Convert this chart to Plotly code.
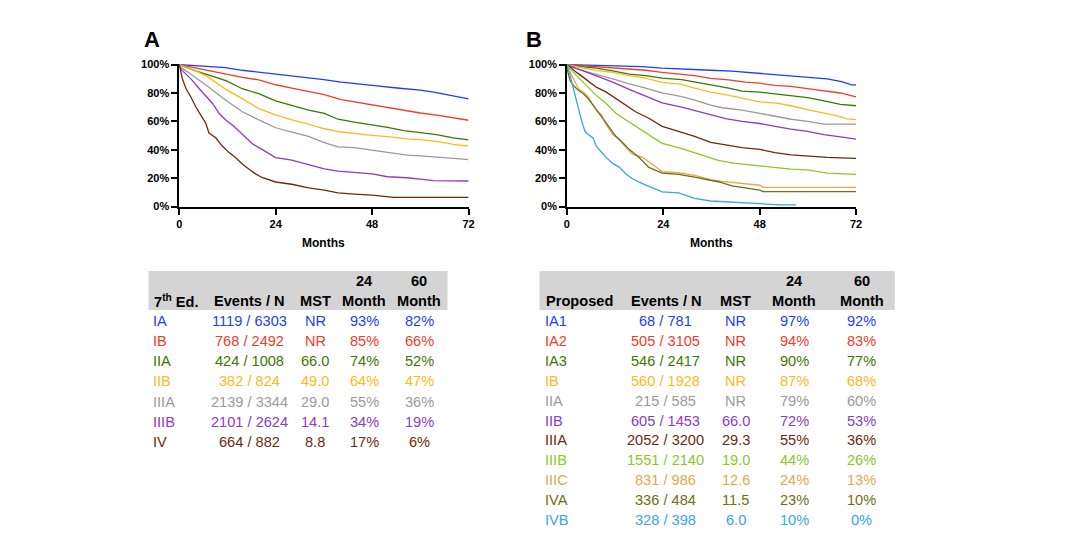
import plotly.graph_objects as go

# ---------------- DATA ----------------
# Panel A (7th edition) Kaplan-Meier curves: months and survival (%)
A_IA_t = [0, 3, 6.6, 11.5, 15.7, 20.6, 24, 28, 32, 36, 40.3, 43.6, 48, 54.2, 60, 63.3, 66.5, 69.7, 72]
A_IA_s = [100, 99.5, 99, 97.8, 96, 94.5, 93, 92, 91, 89.4, 87.6, 86.4, 85.3, 83.5, 82, 80.6, 78.8, 77.2, 75.8]
A_IB_t = [0, 1.7, 4.1, 7.4, 11.6, 15.7, 19.8, 24, 28, 32.2, 36.1, 40.3, 43.6, 48, 51.8, 56.7, 60, 64.9, 68.2, 72]
A_IB_s = [100, 99, 98, 95.6, 93.3, 91, 89.2, 85.8, 83.4, 81.3, 78.8, 75.3, 73.7, 71.4, 69.6, 67.3, 65.9, 64, 62.7, 60.8]
A_IIA_t = [0, 1.7, 4.1, 7.4, 11.6, 15.7, 19.8, 24, 28, 32.2, 36.1, 39.5, 43.6, 48, 51.8, 55.9, 60, 64, 68.2, 72]
A_IIA_s = [100, 98, 95.6, 92.6, 88.7, 83, 79.5, 74.5, 71.4, 68, 65.7, 61.5, 59.4, 57.6, 55.8, 53.5, 52, 50.7, 48.4, 47]
A_IIB_t = [0, 1.7, 4.1, 7.4, 11.6, 15.7, 19.8, 24, 28, 32.2, 36.1, 40.3, 43.6, 48, 51.8, 56.7, 60, 64.9, 68.2, 72]
A_IIB_s = [100, 98, 95.6, 91, 82.5, 76, 69, 64.5, 61, 58, 54.8, 52.5, 51.4, 50.2, 49.3, 47.7, 47.2, 45.6, 43.8, 42.6]
A_IIIA_t = [0, 0.4, 1.7, 4.1, 7.4, 11.6, 15.7, 19.8, 24, 28, 32.2, 36.1, 39.5, 43.6, 48, 51.8, 56.7, 60, 64, 68.2, 72]
A_IIIA_s = [100, 98, 95.6, 91, 84.1, 74.9, 66.8, 61, 55.5, 52.5, 49.5, 45, 42, 41.5, 39.6, 38, 36.2, 35.7, 34.6, 33.9, 33]
A_IIIB_t = [0, 0.4, 1.7, 3.3, 5, 6.6, 8.3, 9.9, 11.6, 13.6, 15.7, 18.2, 20.6, 24, 28, 32.2, 36.1, 39.5, 43.6, 48, 51.8, 56.7, 60, 63.2, 72]
A_IIIB_s = [100, 96.8, 93.3, 88.7, 83, 78.3, 72.6, 65.7, 61, 56.5, 50.7, 44.2, 40.3, 34.5, 32.7, 29.5, 26.5, 25, 23.8, 23, 21, 20.3, 19.3, 18.2, 18]
A_IV_t = [0, 0.4, 0.8, 1.7, 2.9, 4.1, 5.4, 6.6, 7.4, 9.1, 10.7, 12.4, 14, 15.7, 17.3, 19, 20.6, 24, 28, 32.2, 36.1, 39.5, 43.6, 48, 53.4, 72]
A_IV_s = [100, 94.5, 89.9, 83, 77.2, 70.3, 64.5, 58.8, 51.8, 48.4, 42.6, 38, 34.6, 30, 26.5, 23, 20.5, 17.3, 15.7, 13.1, 11.5, 9.7, 8.8, 8.1, 6.5, 6.5]

# Panel B (proposed) Kaplan-Meier curves
B_IA1_t = [0, 6.5, 11.4, 18.8, 23.7, 31.8, 35.8, 41.1, 45.2, 48.9, 50.9, 55, 59.1, 64.8, 68.1, 70.9, 72]
B_IA1_s = [100, 99.7, 99.3, 98.6, 97.5, 96.8, 96, 95.4, 94.5, 93.8, 93.1, 92.2, 91.5, 89.9, 88.2, 85.7, 85.7]
B_IA2_t = [0, 1.6, 4.1, 11.4, 15.5, 19.6, 23.7, 28.6, 31.8, 35.8, 40.3, 44.4, 48, 51.8, 55.8, 59.9, 64, 68.1, 70.5, 72]
B_IA2_s = [100, 99.7, 99.3, 97.9, 96.8, 96, 94.5, 93.3, 92.2, 90.3, 89.2, 87.6, 86.9, 85.3, 84.6, 83, 81.3, 80, 78.3, 77.2]
B_IA3_t = [0, 1.6, 4.1, 7.3, 11.4, 15.5, 19.6, 23.7, 28.6, 31.8, 35.8, 40.3, 43.6, 48, 51.8, 56.7, 59.9, 64, 68.1, 72]
B_IA3_s = [100, 99, 98.4, 97.5, 95.6, 93.3, 92.2, 90.5, 89.4, 87.6, 85.7, 83.4, 81.3, 80.6, 79.3, 77.9, 76.8, 74.4, 71.9, 71]
B_IB_t = [0, 1.6, 4.1, 7.3, 11.4, 15.5, 19.6, 23.7, 28.6, 31.8, 35.8, 39.5, 43.6, 48, 51.8, 55.8, 59.9, 64, 68.1, 69.7, 72]
B_IB_s = [100, 99, 97.5, 96, 94.5, 92.2, 90.5, 87.5, 86, 83.5, 80.6, 78.8, 76.5, 73.7, 73, 71, 68.3, 65.7, 63.4, 61.8, 61.3]
B_IIA_t = [0, 1.6, 4.1, 7.3, 11.4, 15.5, 19.6, 23.7, 28.6, 31.8, 35.8, 38.7, 43.6, 48, 51.8, 55.8, 59.9, 64, 72]
B_IIA_s = [100, 98, 95.6, 93.3, 89.9, 86.4, 83.5, 80, 77.5, 74.9, 71.4, 69.6, 68, 65.7, 63.4, 61.5, 60, 58.1, 58.1]
B_IIB_t = [0, 0.8, 2.4, 4.1, 7.3, 11.4, 15.5, 19.6, 23.7, 28.6, 31.8, 35.8, 39.5, 43.6, 48, 51.8, 55.8, 59.9, 64, 68.1, 72]
B_IIB_s = [100, 99, 97.2, 95.6, 92.2, 87.6, 82.5, 78, 73, 70, 67.5, 64.5, 62, 60, 58.5, 56.5, 54.5, 53, 50.7, 49.1, 47.5]
B_IIIA_t = [0, 0.8, 2.4, 4.1, 5.7, 7.3, 9.8, 12.2, 14.7, 17.1, 20.4, 23.7, 27.8, 31.8, 35.8, 39.5, 43.6, 48, 51.8, 55.8, 59.9, 64.8, 72]
B_IIIA_s = [100, 98, 94.5, 91, 87.6, 84.1, 80.6, 76, 71.4, 66.8, 62.2, 56.5, 53, 49.5, 45.2, 43.3, 41.5, 40.3, 38, 36.4, 35.7, 34.6, 33.9]
B_IIIB_t = [0, 0.8, 2.4, 4.1, 5.7, 7.3, 9.8, 12.2, 14.7, 17.1, 20.4, 23.7, 27.8, 31.8, 35.8, 37.9, 42, 48, 51.8, 55.8, 59.9, 64.8, 72]
B_IIIB_s = [100, 97, 92.2, 87.6, 83, 78.3, 72.6, 65.7, 61, 56.5, 50.7, 44.5, 41.5, 38, 34.1, 32.3, 30.4, 28.8, 27.6, 26.3, 25.8, 23.5, 22.6]
B_IIIC_t = [0, 0.4, 1.2, 2, 2.9, 4.1, 5.3, 6.5, 7.3, 8.6, 9.8, 11.4, 13.1, 14.7, 16.3, 18.8, 21.2, 23.7, 27.8, 31.8, 35.8, 38.7, 42, 48, 48.9, 72]
B_IIIC_s = [100, 96.8, 92.2, 87.6, 83, 80.6, 77.2, 71.4, 68, 64.5, 57.6, 50.7, 47.2, 41.5, 36.9, 34.6, 30, 24.5, 23.8, 21.9, 18.9, 17.7, 16.6, 15, 13.5, 13.5]
B_IVA_t = [0, 0.2, 0.8, 1.6, 2.9, 4.1, 5.3, 6.5, 7.8, 9, 10.6, 12.2, 13.9, 15.5, 18, 20.4, 23.7, 27.8, 31.8, 35.8, 37.9, 41.1, 44.4, 48, 48.9, 72]
B_IVA_s = [100, 95, 88.7, 85.3, 81.8, 79.5, 76, 71.4, 66.8, 62.2, 56.5, 49.5, 44.9, 40.3, 34.6, 27.6, 23.5, 22.6, 20.7, 18.4, 17.3, 14.5, 13.1, 11.5, 10.5, 10.5]
B_IVB_t = [0, 0.4, 0.8, 1.2, 1.6, 2, 2.4, 2.9, 3.3, 3.7, 4.1, 4.5, 5.3, 6.5, 7.3, 8.6, 9.8, 11.4, 13.1, 14.7, 16.3, 18.8, 21.2, 23.7, 27.8, 31.8, 35.8, 38.7, 44.4, 53.4, 57.1]
B_IVB_s = [100, 96.8, 92.2, 87.6, 83, 78.3, 73.7, 69.1, 64.5, 59.9, 56.5, 53, 50.7, 48.4, 42.6, 38, 34.6, 30.4, 27.6, 23, 19.6, 16.1, 13.4, 10.4, 9.7, 5.8, 3.9, 3.5, 2.3, 1.2, 1.2]

# Axis ticks
x_ticks = [0, 24, 48, 72]
y_ticks = [0, 20, 40, 60, 80, 100]
y_tick_labels = ["0%", "20%", "40%", "60%", "80%", "100%"]

# Table A
A_stages = ["IA", "IB", "IIA", "IIB", "IIIA", "IIIB", "IV"]
A_events = ["1119 / 6303", "768 / 2492", "424 / 1008", "382 / 824", "2139 / 3344", "2101 / 2624", "664 / 882"]
A_mst = ["NR", "NR", "66.0", "49.0", "29.0", "14.1", "8.8"]
A_m24 = ["93%", "85%", "74%", "64%", "55%", "34%", "17%"]
A_m60 = ["82%", "66%", "52%", "47%", "36%", "19%", "6%"]

# Table B
B_stages = ["IA1", "IA2", "IA3", "IB", "IIA", "IIB", "IIIA", "IIIB", "IIIC", "IVA", "IVB"]
B_events = ["68 / 781", "505 / 3105", "546 / 2417", "560 / 1928", "215 / 585", "605 / 1453",
            "2052 / 3200", "1551 / 2140", "831 / 986", "336 / 484", "328 / 398"]
B_mst = ["NR", "NR", "NR", "NR", "NR", "66.0", "29.3", "19.0", "12.6", "11.5", "6.0"]
B_m24 = ["97%", "94%", "90%", "87%", "79%", "72%", "55%", "44%", "24%", "23%", "10%"]
B_m60 = ["92%", "83%", "77%", "68%", "60%", "53%", "36%", "26%", "13%", "10%", "0%"]

# ---------------- STYLE ----------------
BLUE = "#1E3CFF"
RED = "#F03C2A"
GREEN = "#3A7800"
YELLOW = "#FFB81C"
GRAY = "#9A9A9A"
PURPLE = "#8A3CC2"
BROWN = "#6B2A0C"
LIME = "#8CC81E"
TAN = "#E0A850"
OLIVE = "#6E6E14"
CYAN = "#35A8E0"

A_colors = [BLUE, RED, GREEN, YELLOW, GRAY, PURPLE, BROWN]
B_colors = [BLUE, RED, GREEN, YELLOW, GRAY, PURPLE, BROWN, LIME, TAN, OLIVE, CYAN]

FONT = "Liberation Sans, Arial, Helvetica, sans-serif"
W, H = 1072, 547
TS = 14.6  # table font size


def px(x):
    return x / W


def py(y):
    return 1 - y / H


A_curves = [(A_IA_t, A_IA_s), (A_IB_t, A_IB_s), (A_IIA_t, A_IIA_s), (A_IIB_t, A_IIB_s),
            (A_IIIA_t, A_IIIA_s), (A_IIIB_t, A_IIIB_s), (A_IV_t, A_IV_s)]
B_curves = [(B_IA1_t, B_IA1_s), (B_IA2_t, B_IA2_s), (B_IA3_t, B_IA3_s), (B_IB_t, B_IB_s),
            (B_IIA_t, B_IIA_s), (B_IIB_t, B_IIB_s), (B_IIIA_t, B_IIIA_s), (B_IIIB_t, B_IIIB_s),
            (B_IIIC_t, B_IIIC_s), (B_IVA_t, B_IVA_s), (B_IVB_t, B_IVB_s)]

fig = go.Figure()

for (t, s), c, name in zip(A_curves, A_colors, A_stages):
    fig.add_trace(go.Scatter(x=t, y=s, mode="lines", line=dict(color=c, width=1.3, shape="linear"),
                             name=name, xaxis="x", yaxis="y", showlegend=False))
for (t, s), c, name in zip(B_curves, B_colors, B_stages):
    fig.add_trace(go.Scatter(x=t, y=s, mode="lines", line=dict(color=c, width=1.3, shape="linear"),
                             name=name, xaxis="x2", yaxis="y2", showlegend=False))

# axes geometry (pixels)
ext = 0.5  # % padding so lines at 100% are not clipped
y_top_px, y_bot_px = 60.7, 205.3
pp = (y_bot_px - y_top_px) / 100.0
ydom = [py(y_bot_px + ext * pp), py(y_top_px - ext * pp)]

axis_common = dict(showline=True, linecolor="black", linewidth=1.5, ticks="outside",
                   ticklen=6, tickwidth=1.5, tickcolor="black", showgrid=False, zeroline=False,
                   tickfont=dict(family=FONT, size=11, color="black", weight="bold"))

xcommon = dict(axis_common, range=[0, 72], tickmode="array", tickvals=x_ticks,
               ticktext=[str(v) for v in x_ticks])
ycommon = dict(axis_common, range=[-ext, 100 + ext], tickmode="array", tickvals=y_ticks,
               ticktext=y_tick_labels)

fig.update_layout(
    width=W, height=H, autosize=False,
    margin=dict(l=0, r=0, t=0, b=0),
    paper_bgcolor="white", plot_bgcolor="white",
    font=dict(family=FONT, color="black"),
    xaxis=dict(xcommon, domain=[px(177.7), px(469.5)], anchor="y"),
    yaxis=dict(ycommon, domain=ydom, anchor="x"),
    xaxis2=dict(xcommon, domain=[px(568.7), px(860.3)], anchor="y2"),
    yaxis2=dict(ycommon, domain=ydom, anchor="x2"),
)

ann = []


def text(x, y, s, size=TS, color="black", bold=False, xanchor="center"):
    ann.append(dict(x=px(x), y=py(y), xref="paper", yref="paper", text=s, showarrow=False,
                    xanchor=xanchor, yanchor="middle", borderpad=0, borderwidth=0,
                    font=dict(family=FONT, size=size, color=color, weight="bold" if bold else "normal")))


# panel letters and axis titles
text(150, 35.5, "A", size=22, bold=True)
text(535.5, 35.5, "B", size=22, bold=True)
text(323.6, 242.5, "Months", size=12, bold=True)
text(714.5, 242.5, "Months", size=12, bold=True)

shapes = [
    dict(type="rect", xref="paper", yref="paper", x0=px(146.7), x1=px(448.3), y0=py(310.7), y1=py(271),
         fillcolor="#D4D4D4", line=dict(width=0), layer="below"),
    dict(type="rect", xref="paper", yref="paper", x0=px(541), x1=px(899.3), y0=py(310.7), y1=py(271),
         fillcolor="#D4D4D4", line=dict(width=0), layer="below"),
]

# Table A
hy1, hy2 = 281, 301.5
text(152.3, hy2, "7<sup>th</sup> Ed.", bold=True, xanchor="left")
text(248.3, hy2, "Events / N", bold=True)
text(315.3, hy2, "MST", bold=True)
text(364.1, hy1, "24", bold=True)
text(364.1, hy2, "Month", bold=True)
text(420, hy1, "60", bold=True)
text(420, hy2, "Month", bold=True)
for i, (st, ev, ms, m24, m60) in enumerate(zip(A_stages, A_events, A_mst, A_m24, A_m60)):
    y = 321.7 + i * 20.55
    c = A_colors[i]
    text(151.5, y, st, color=c, xanchor="left")
    text(248.6, y, ev, color=c)
    text(314.8, y, ms, color=c)
    text(364.2, y, m24, color=c)
    text(420, y, m60, color=c)

# Table B
text(548, hy2, "Proposed", bold=True, xanchor="left")
text(669, hy2, "Events / N", bold=True)
text(738.7, hy2, "MST", bold=True)
text(798.2, hy1, "24", bold=True)
text(798.2, hy2, "Month", bold=True)
text(866, hy1, "60", bold=True)
text(866, hy2, "Month", bold=True)
for i, (st, ev, ms, m24, m60) in enumerate(zip(B_stages, B_events, B_mst, B_m24, B_m60)):
    y = 322.3 + i * 20.2
    c = B_colors[i]
    text(546.5, y, st, color=c, xanchor="left")
    text(668.6, y, ev, color=c)
    text(738.8, y, ms, color=c)
    text(798, y, m24, color=c)
    text(865.8, y, m60, color=c)

fig.update_layout(annotations=ann, shapes=shapes)
fig.write_html("out.html", config={"displayModeBar": False},
               post_script="document.body.style.margin='0';document.body.style.overflow='hidden';")
